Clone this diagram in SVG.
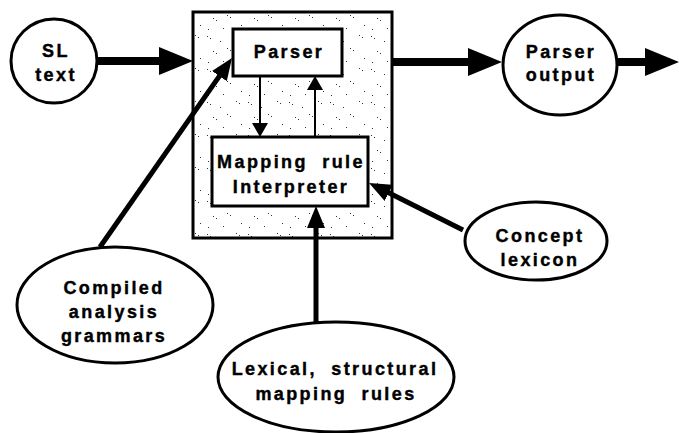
<svg xmlns="http://www.w3.org/2000/svg" width="679" height="433" viewBox="0 0 679 433">
  <defs>
    <style>
      .lbl { font-family: "Liberation Sans", Arial, sans-serif; font-weight: bold; font-size: 18px; letter-spacing: 2.4px; fill: #000; stroke: #000; stroke-width: 0.4; text-anchor: middle; }
      .wide { word-spacing: 7px; }
      .node { fill: #fff; stroke: #000; stroke-width: 3; }
      .wire { fill: none; stroke: #000; stroke-linecap: butt; }
      .thick { stroke-width: 8; }
      .mid { stroke-width: 5; }
      .thin { stroke-width: 2; }
    </style>
    <!-- speckled grey fill for the parser unit -->
    <pattern id="stipple" width="41" height="33" patternUnits="userSpaceOnUse">
      <rect width="41" height="33" fill="#fff"/>
      <g fill="#333">
        <rect x="2" y="3" width="1" height="1"/>
        <rect x="5" y="5" width="1" height="1"/>
        <rect x="15" y="8" width="1" height="1"/>
        <rect x="31" y="2" width="1" height="1"/>
        <rect x="34" y="4" width="1" height="1"/>
        <rect x="8" y="18" width="1" height="1"/>
        <rect x="11" y="20" width="1" height="1"/>
        <rect x="22" y="15" width="1" height="1"/>
        <rect x="25" y="17" width="1" height="1"/>
        <rect x="36" y="25" width="1" height="1"/>
        <rect x="18" y="28" width="1" height="1"/>
        <rect x="3" y="29" width="1" height="1"/>
      </g>
    </pattern>
    <marker id="head-lg" viewBox="0 0 34 28" refX="22" refY="14" markerWidth="34" markerHeight="28" markerUnits="userSpaceOnUse" orient="auto">
      <path d="M0,0 L34,14 L0,28 Z" fill="#000"/>
    </marker>
    <marker id="head-md" viewBox="0 0 22 18" refX="14" refY="9" markerWidth="22" markerHeight="18" markerUnits="userSpaceOnUse" orient="auto">
      <path d="M0,0 L22,9 L0,18 Z" fill="#000"/>
    </marker>
    <marker id="head-sm" viewBox="0 0 14 16" refX="11" refY="8" markerWidth="14" markerHeight="16" markerUnits="userSpaceOnUse" orient="auto">
      <path d="M0,0 L14,8 L0,16 Z" fill="#000"/>
    </marker>
  </defs>

  <rect width="679" height="433" fill="#fff"/>

  <!-- parser unit enclosing the parser and rule interpreter -->
  <g id="parser-unit">
    <rect x="193" y="12" width="199" height="226" fill="url(#stipple)" stroke="#000" stroke-width="3"/>
  </g>

  <g id="parser">
    <rect class="node" x="233" y="29" width="109" height="47"/>
    <text class="lbl" x="289" y="58">Parser</text>
  </g>

  <g id="mapping-rule-interpreter">
    <rect class="node" x="212" y="137" width="156" height="69"/>
    <text class="lbl wide" x="291" y="168">Mapping rule</text>
    <text class="lbl" x="291" y="193">Interpreter</text>
  </g>

  <g id="sl-text">
    <ellipse class="node" cx="54" cy="61" rx="43" ry="42"/>
    <text class="lbl" x="56" y="57">SL</text>
    <text class="lbl" x="56" y="81">text</text>
  </g>

  <g id="parser-output">
    <ellipse class="node" cx="560" cy="65" rx="57" ry="50"/>
    <text class="lbl" x="561" y="58">Parser</text>
    <text class="lbl" x="561" y="81">output</text>
  </g>

  <g id="compiled-grammars">
    <ellipse class="node" cx="115" cy="305" rx="98" ry="58"/>
    <text class="lbl" x="114" y="294">Compiled</text>
    <text class="lbl" x="114" y="318">analysis</text>
    <text class="lbl" x="114" y="342">grammars</text>
  </g>

  <g id="concept-lexicon">
    <ellipse class="node" cx="536" cy="241" rx="71" ry="39"/>
    <text class="lbl" x="540" y="242">Concept</text>
    <text class="lbl" x="540" y="266">lexicon</text>
  </g>

  <g id="mapping-rules">
    <ellipse class="node" cx="336" cy="377" rx="118" ry="55"/>
    <text class="lbl wide" x="335" y="375">Lexical, structural</text>
    <text class="lbl wide" x="336" y="400">mapping rules</text>
  </g>

  <g id="connectors">
    <path class="wire thick" d="M97,61 L181,61" marker-end="url(#head-lg)"/>
    <path class="wire thick" d="M392,62 L490,62" marker-end="url(#head-lg)"/>
    <path class="wire thick" d="M617,62 L667,62" marker-end="url(#head-lg)"/>
    <path class="wire mid" d="M100,247 L227.4,64.6" marker-end="url(#head-md)"/>
    <path class="wire mid" d="M463,230 L376.2,186.6" marker-end="url(#head-md)"/>
    <path class="wire mid" d="M316,322 L316,214" marker-end="url(#head-md)"/>
    <path class="wire thin" d="M260,76 L260,134" marker-end="url(#head-sm)"/>
    <path class="wire thin" d="M315,137 L315,79" marker-end="url(#head-sm)"/>
  </g>
</svg>
